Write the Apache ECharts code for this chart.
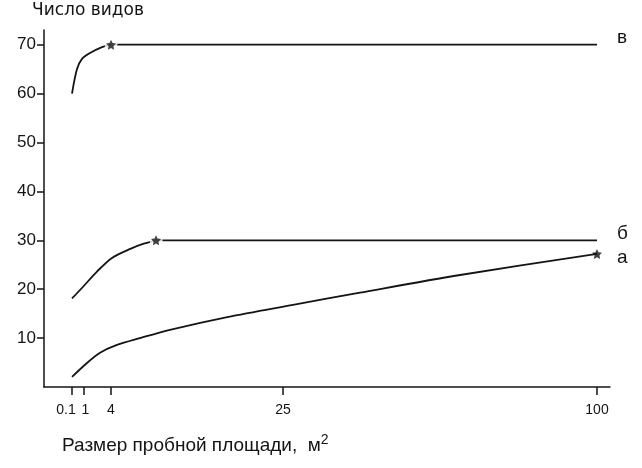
<!DOCTYPE html>
<html><head><meta charset="utf-8">
<script src="https://cdn.jsdelivr.net/npm/echarts@6/dist/echarts.min.js"></script>
<style>html,body{margin:0;padding:0;background:#fff}#c{width:642px;height:468px}</style>
</head><body><div id="c"></div>
<script>
// X-axis tick labels (sample plot size, m2) and the non-uniform scale breakpoints of the original drawing
const xTickValues = [0.1, 1, 4, 25, 100];
const xTickLabels = ['0.1', '1', '4', '25', '100'];
const xScaleStops = [0, 12, 39, 211, 525];
const yTickValues = [10, 20, 30, 40, 50, 60, 70];

// Series а (rising curve)
const sizeA = [0.1, 1.33, 2.78, 4.73, 7.54, 11.2, 18.2, 27.4, 43.4, 67.3, 100];
const speciesA = [2.05, 4.9, 7.0, 8.6, 10.0, 11.7, 14.3, 16.8, 19.3, 22.9, 27.2];
// Series б: curve up to the star, then plateau
const sizeB = [0.1, 0.93, 2.44, 4.12, 6.44, 8.0, 9.5];
const speciesB = [18.1, 20.5, 23.6, 26.4, 28.3, 29.3, 30.0];
const plateauSizeB = [9.5, 100];
const plateauB = [30, 30];
// Series в: curve up to the star, then plateau
const sizeV = [0.1, 0.475, 0.85, 1.67, 3.0, 4];
const speciesV = [60, 65.0, 67.1, 68.3, 69.5, 70];
const plateauSizeV = [4, 100];
const plateauV = [70, 70];
// Star markers (minimal area)
const starSize = [4, 9.5, 100];
const starSpecies = [70, 30, 27.2];

function toScale(v) {
  for (let i = 0; i < xTickValues.length - 1; i++) {
    const a = xTickValues[i], b = xTickValues[i + 1];
    if (v <= b || i === xTickValues.length - 2) {
      return xScaleStops[i] + (v - a) / (b - a) * (xScaleStops[i + 1] - xScaleStops[i]);
    }
  }
}
function pts(xs, ys) { return xs.map((x, i) => [toScale(x), ys[i]]); }
const tickPos = xTickValues.map(toScale);

const FONT = 'Liberation Sans';
const INK = '#141414';
const starPath = 'path://M0,-10 L2.9,-4 9.5,-3.1 4.7,1.5 5.9,8.1 0,5 -5.9,8.1 -4.7,1.5 -9.5,-3.1 -2.9,-4Z';

function curve(xs, ys, smooth) {
  return {
    type: 'line', data: pts(xs, ys), smooth: smooth, showSymbol: false, symbol: 'none',
    lineStyle: { color: INK, width: 1.8 }, z: 2, silent: true
  };
}
function withLabel(s, name, offY) {
  s.endLabel = { show: true, formatter: name, color: INK, fontFamily: FONT, fontSize: 19, offset: [12, offY] };
  return s;
}

const chart = echarts.init(document.getElementById('c'), null, { renderer: 'canvas' });
chart.setOption({
  animation: false,
  backgroundColor: '#fff',
  grid: { left: 44, right: 32, top: 30, bottom: 81, containLabel: false },
  graphic: [
    {
      type: 'text', left: 32, top: 2,
      style: { text: 'Число видов', font: '17px "DejaVu Sans"', fill: INK }
    },
    {
      type: 'text', left: 62, top: 433,
      style: {
        text: 'Размер пробной площади,  м{sup|2}',
        font: '19px "Liberation Sans"', fill: INK,
        rich: { sup: { fontSize: 14, fontFamily: FONT, verticalAlign: 'top', padding: [0, 0, 12, 0], fill: INK } }
      }
    }
  ],
  xAxis: {
    type: 'value', min: -28, max: 538,
    axisLine: { lineStyle: { color: INK, width: 1.5 } },
    axisTick: { show: true, customValues: tickPos, length: 8, lineStyle: { color: INK, width: 1.5 } },
    axisLabel: {
      customValues: tickPos, margin: 16, color: INK, fontFamily: FONT, fontSize: 14, hideOverlap: false,
      formatter: function (v) {
        const i = tickPos.findIndex(p => Math.abs(p - v) < 0.01);
        if (i === 0) return '{l|' + xTickLabels[0] + '}';
        if (i === 1) return '{r|' + xTickLabels[1] + '}';
        return i >= 0 ? xTickLabels[i] : '';
      },
      rich: {
        l: { fontFamily: FONT, fontSize: 14, color: INK, padding: [0, 12, 0, 0] },
        r: { fontFamily: FONT, fontSize: 14, color: INK, padding: [0, 0, 0, 3] }
      }
    },
    splitLine: { show: false }
  },
  yAxis: {
    type: 'value', min: 0, max: 73,
    axisLine: { show: true, onZero: false, lineStyle: { color: INK, width: 1.5 } },
    axisTick: { show: true, customValues: yTickValues, length: 7, lineStyle: { color: INK, width: 1.5 } },
    axisLabel: { customValues: yTickValues, margin: 8, color: INK, fontFamily: FONT, fontSize: 17 },
    splitLine: { show: false }
  },
  series: [
    curve(sizeV, speciesV, 0.3),
    withLabel(curve(plateauSizeV, plateauV, false), 'в', -7),
    curve(sizeB, speciesB, 0.3),
    withLabel(curve(plateauSizeB, plateauB, false), 'б', -7),
    withLabel(curve(sizeA, speciesA, 0.3), 'а', 4),
    {
      type: 'scatter', data: pts(starSize.slice(0, 2), starSpecies.slice(0, 2)), symbol: 'circle', symbolSize: 13,
      itemStyle: { color: '#fff' }, z: 4, silent: true
    },
    {
      type: 'scatter', data: pts(starSize, starSpecies), symbol: starPath, symbolSize: 10,
      itemStyle: { color: INK }, z: 5, silent: true
    }
  ]
});
</script></body></html>
